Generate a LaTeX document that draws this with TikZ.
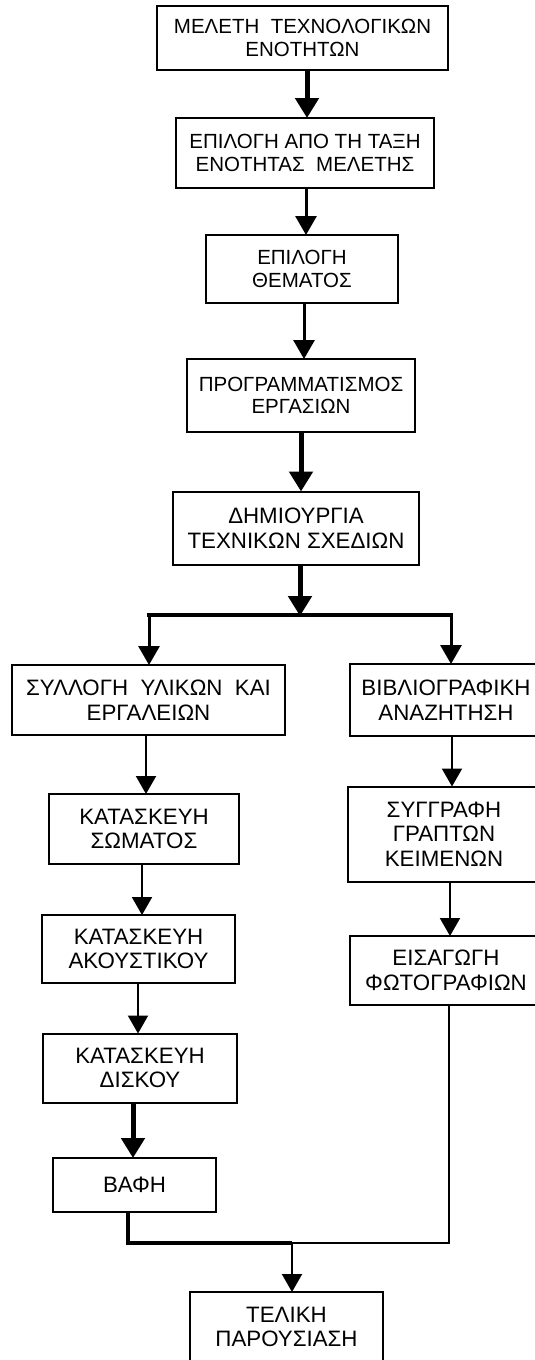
\documentclass[tikz,border=0pt]{standalone}
\usepackage{fontspec}
\setmainfont{Liberation Sans}
\usetikzlibrary{arrows.meta}
\begin{document}
\begin{tikzpicture}[x=1pt,y=-1pt,
  box/.style={draw, line width=2pt, align=center, inner sep=0pt, outer sep=0pt,
    font=\fontsize{20.5}{22.5}\selectfont},
  wbox/.style={box, font=\fontsize{22.3}{24.5}\selectfont},
  thk/.style={line width=5pt, -{Triangle[length=20pt,width=23pt]}},
  med/.style={line width=3pt, -{Triangle[length=19pt,width=21pt]}},
  thn/.style={line width=2pt, -{Triangle[length=18pt,width=20pt]}},
  ln/.style={line width=2.5pt}]
\useasboundingbox (0,0) rectangle (535,1360);
\clip (0,0) rectangle (535,1360);
\fill[white] (0,0) rectangle (535,1360);

% main column
\node[box, minimum width=291, minimum height=64] (b1) at (302.5,38) {ΜΕΛΕΤΗ\ \ ΤΕΧΝΟΛΟΓΙΚΩΝ\\ΕΝΟΤΗΤΩΝ};
\node[box, minimum width=258, minimum height=70] (b2) at (305,153) {ΕΠΙΛΟΓΗ ΑΠΟ ΤΗ ΤΑΞΗ\\ΕΝΟΤΗΤΑΣ\ \ ΜΕΛΕΤΗΣ};
\node[box, minimum width=192, minimum height=68] (b3) at (302,269) {ΕΠΙΛΟΓΗ\\ΘΕΜΑΤΟΣ};
\node[box, minimum width=228, minimum height=73] (b4) at (301,395.5) {ΠΡΟΓΡΑΜΜΑΤΙΣΜΟΣ\\ΕΡΓΑΣΙΩΝ};
\node[wbox, minimum width=246, minimum height=73] (b5) at (296,528) {ΔΗΜΙΟΥΡΓΙΑ\\ΤΕΧΝΙΚΩΝ ΣΧΕΔΙΩΝ};

% left column
\node[wbox, minimum width=273, minimum height=70] (b6) at (148.5,700) {ΣΥΛΛΟΓΗ\ \ ΥΛΙΚΩΝ\ \ ΚΑΙ\\ΕΡΓΑΛΕΙΩΝ};
\node[wbox, minimum width=190, minimum height=70] (b8) at (144,829) {ΚΑΤΑΣΚΕΥΗ\\ΣΩΜΑΤΟΣ};
\node[wbox, minimum width=193, minimum height=68] (b10) at (138.5,949) {ΚΑΤΑΣΚΕΥΗ\\ΑΚΟΥΣΤΙΚΟΥ};
\node[wbox, minimum width=194, minimum height=69] (b11) at (140,1068) {ΚΑΤΑΣΚΕΥΗ\\ΔΙΣΚΟΥ};
\node[wbox, minimum width=163, minimum height=54] (b13) at (134.5,1185) {ΒΑΦΗ};

% right column
\node[wbox, minimum width=192, minimum height=72] (b7) at (446,700) {ΒΙΒΛΙΟΓΡΑΦΙΚΗ\\ΑΝΑΖΗΤΗΣΗ};
\node[wbox, minimum width=192, minimum height=95] (b9) at (444,834) {ΣΥΓΓΡΑΦΗ\\ΓΡΑΠΤΩΝ\\ΚΕΙΜΕΝΩΝ};
\node[wbox, minimum width=192, minimum height=69] (b12) at (446,970.5) {ΕΙΣΑΓΩΓΗ\\ΦΩΤΟΓΡΑΦΙΩΝ};

% final
\node[wbox, minimum width=193, minimum height=70] (b14) at (286.5,1327) {ΤΕΛΙΚΗ\\ΠΑΡΟΥΣΙΑΣΗ};

% main arrows
\draw[thk] (b1.south -| 307,0) -- (b2.north -| 307,0);
\draw[med] (b2.south -| 306,0) -- (b3.north -| 306,0);
\draw[med] (b3.south -| 304,0) -- (b4.north -| 304,0);
\draw[thk] (b4.south -| 301,0) -- (b5.north -| 301,0);

% split
\coordinate (sp) at (300,615);
\coordinate (sl) at (149,615);
\coordinate (sr) at (451,615);
\draw[thk] (b5.south -| sp) -- ([yshift=-1]sp);
\draw[line width=3.5pt, line cap=rect] (sl) -- (sr);
\draw[med] (sl) -- (b6.north -| sl);
\draw[med] (sr) -- (b7.north -| sr);

% left column arrows
\draw[thn] (b6.south -| 146,0) -- (b8.north -| 146,0);
\draw[thn] (b8.south -| 142,0) -- (b10.north -| 142,0);
\draw[thn] (b10.south -| 138,0) -- (b11.north -| 138,0);
\draw[thk] (b11.south -| 133,0) -- (b13.north -| 133,0);

% right column arrows
\draw[thn] (b7.south -| 452,0) -- (b9.north -| 452,0);
\draw[thn] (b9.south -| 450,0) -- (b12.north -| 450,0);

% merge
\coordinate (mj) at (292,1243);
\draw[line width=3.5pt, line join=miter] (b13.south -| 128,0) |- (mj);
\draw[ln, line join=miter] (mj) -| (b12.south -| 449,0);
\draw[thn] (mj) -- (b14.north -| mj);
\end{tikzpicture}
\end{document}
